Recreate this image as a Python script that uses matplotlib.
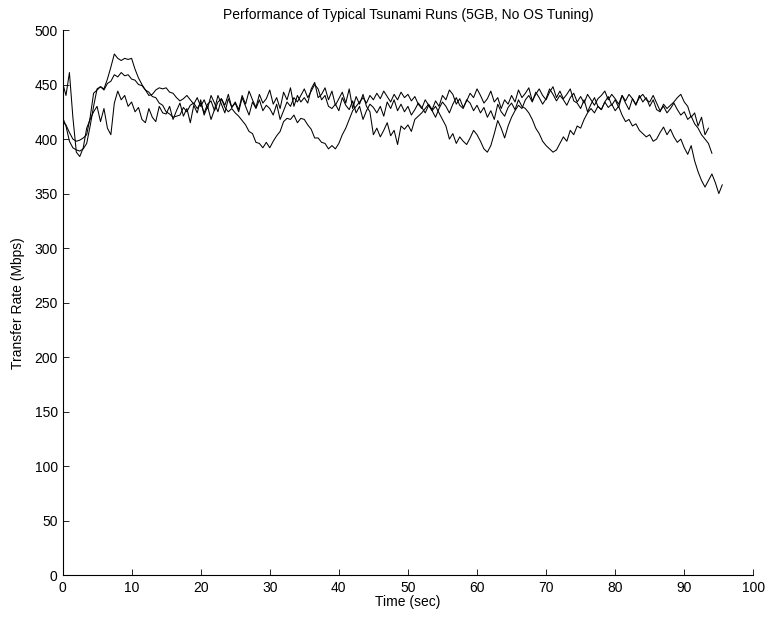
import numpy as np
import matplotlib
matplotlib.use('Agg')
import matplotlib.pyplot as plt

# transfer rate samples (Mbps), one every 0.5 s
run1 = [420, 412, 398, 392, 390, 389, 391, 396, 412, 430,
        446, 448, 446, 455, 466, 478, 474, 472, 474, 473,
        474, 464, 456, 450, 445, 440, 441, 445, 447, 446,
        447, 443, 442, 438, 435, 437, 440, 436, 432, 438,
        430, 436, 428, 440, 433, 425, 437, 431, 441, 429,
        434, 427, 440, 432, 444, 436, 429, 441, 433, 437,
        445, 432, 438, 428, 443, 436, 447, 430, 440, 434,
        438, 433, 446, 452, 438, 441, 447, 436, 444, 431,
        437, 443, 433, 446, 428, 439, 432, 441, 430, 425,
        404, 410, 402, 408, 415, 403, 408, 395, 412, 409,
        413, 407, 418, 421, 424, 428, 432, 427, 435, 430,
        440, 436, 445, 441, 432, 437, 429, 435, 442, 438,
        446, 440, 433, 437, 444, 434, 438, 428, 436, 432,
        440, 434, 445, 438, 442, 447, 435, 441, 446, 440,
        436, 443, 448, 438, 444, 437, 441, 446, 435, 433,
        428, 436, 425, 432, 438, 430, 427, 434, 439, 431,
        436, 429, 440, 433, 427, 437, 431, 440, 434, 438,
        430, 436, 427, 425, 432, 428, 431, 434, 438, 441,
        434, 430, 420, 424, 412, 420, 404, 410]

run2 = [416, 413, 406, 400, 398, 399, 401, 404, 420, 442,
        445, 448, 445, 451, 453, 459, 457, 461, 458, 459,
        455, 454, 450, 449, 445, 443, 439, 438, 433, 431,
        425, 423, 420, 421, 422, 429, 425, 431, 433, 428,
        433, 424, 432, 435, 426, 434, 437, 429, 425, 428,
        424, 421, 417, 413, 407, 405, 397, 396, 392, 397,
        392, 398, 403, 407, 416, 419, 418, 422, 415, 419,
        418, 413, 409, 401, 401, 397, 396, 391, 394, 391,
        396, 404, 410, 418, 426, 430, 434, 438, 433, 440,
        436, 442, 437, 444, 439, 434, 441, 436, 443, 438,
        441, 435, 439, 432, 428, 436, 431, 426, 430, 424,
        418, 412, 400, 405, 396, 402, 398, 395, 401, 408,
        404, 398, 391, 388, 394, 405, 417, 410, 401, 412,
        420, 426, 431, 428, 436, 440, 434, 443, 438, 432,
        437, 446, 441, 435, 440, 436, 431, 438, 442, 434,
        439, 433, 441, 436, 431, 437, 440, 444, 436, 441,
        437, 432, 440, 435, 441, 437, 432, 438, 441, 436,
        434, 440, 433, 426, 430, 424, 428, 433, 427, 422,
        425, 418, 421, 414, 410, 404, 400, 396, 387]

run3 = [452, 440, 461, 420, 388, 384, 392, 410, 418, 425,
        430, 416, 428, 410, 404, 433, 444, 436, 440, 430,
        434, 425, 429, 418, 415, 428, 420, 416, 430, 424,
        423, 430, 418, 426, 433, 421, 428, 415, 431, 424,
        436, 422, 430, 418, 427, 440, 432, 424, 437, 429,
        433, 425, 438, 430, 422, 434, 428, 436, 426, 431,
        428, 422, 432, 418, 426, 434, 430, 438, 434, 440,
        446, 438, 444, 450, 446, 436, 440, 430, 428, 432,
        426, 438, 431, 427, 435, 424, 430, 418, 426, 432,
        429, 424, 430, 421, 434, 428, 436, 426, 432, 425,
        430, 422, 427, 433, 429, 424, 431, 426, 420, 428,
        434, 430, 424, 432, 438, 431, 428, 436, 433, 426,
        431, 424, 429, 420, 426, 418, 432, 425, 421, 429,
        433, 427, 436, 430, 428, 424, 418, 410, 405, 398,
        394, 391, 388, 390, 396, 402, 398, 408, 404, 412,
        410, 418, 424, 428, 424, 430, 427, 434, 429, 432,
        426, 430, 422, 416, 418, 412, 414, 408, 405, 402,
        404, 398, 400, 406, 411, 404, 409, 402, 397, 400,
        392, 386, 394, 380, 370, 362, 356, 362, 368, 360, 350, 358]

x_ticks = [0, 10, 20, 30, 40, 50, 60, 70, 80, 90, 100]
y_ticks = [0, 50, 100, 150, 200, 250, 300, 350, 400, 450, 500]

plt.rcParams['font.family'] = ['Liberation Sans', 'DejaVu Sans']

fig = plt.figure(figsize=(7.67, 6.2), dpi=100)
ax = fig.add_axes([0.0815, 0.0721, 0.9007, 0.8795])

for run in [run1, run2, run3]:
    t = np.arange(len(run)) * 0.5
    ax.plot(t, run, color='black', linewidth=0.75)

ax.set_xlim(0, 100)
ax.set_ylim(0, 500)
ax.set_xticks(x_ticks)
ax.set_yticks(y_ticks)
ax.tick_params(direction='in', length=4, labelsize=10, width=0.6)
ax.tick_params(axis='x', pad=4)
ax.spines['top'].set_visible(False)
ax.spines['right'].set_visible(False)
ax.spines['left'].set_linewidth(0.8)
ax.spines['bottom'].set_linewidth(0.8)

ax.set_title('Performance of Typical Tsunami Runs (5GB, No OS Tuning)', fontsize=10, pad=8)
ax.set_xlabel('Time (sec)', fontsize=10, labelpad=0)
ax.set_ylabel('Transfer Rate (Mbps)', fontsize=10, labelpad=7)

fig.savefig('out.png', dpi=100)
